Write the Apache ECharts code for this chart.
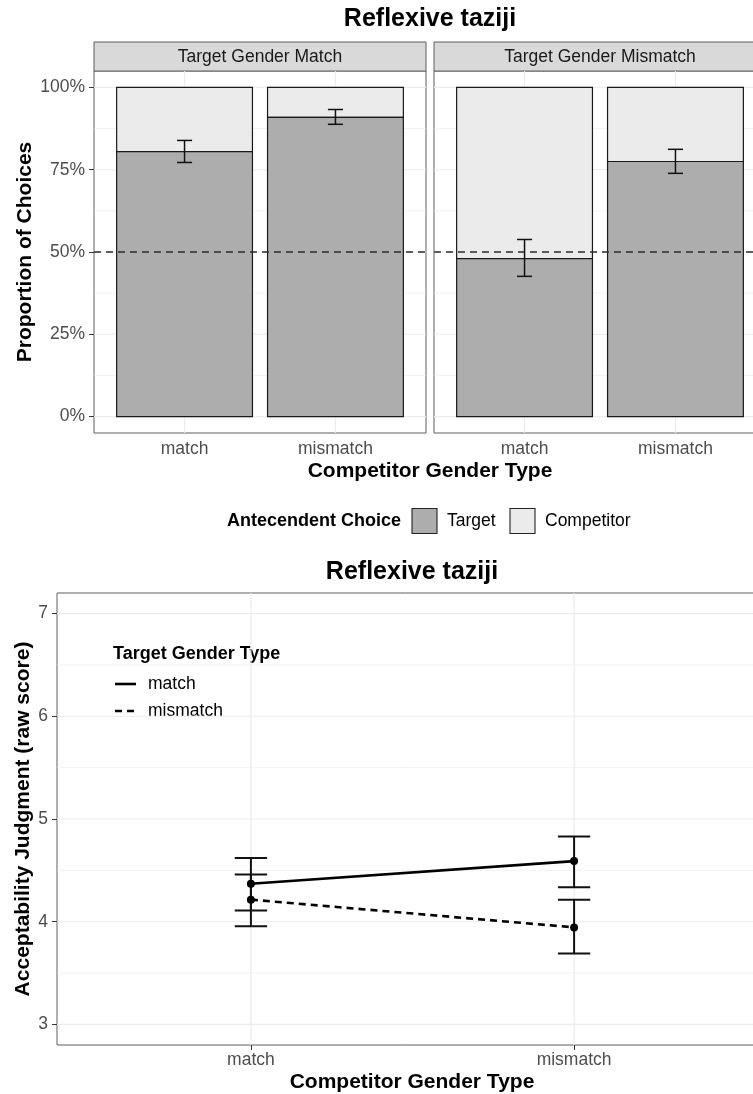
<!DOCTYPE html>
<html>
<head>
<meta charset="utf-8">
<script src="https://cdn.jsdelivr.net/npm/echarts@6/dist/echarts.min.js"></script>
<style>
  html, body { margin: 0; padding: 0; background: #fff; }
  #chart { width: 753px; height: 1094px; }
</style>
</head>
<body>
<div id="chart"></div>
<script>
// ---------------- data ----------------
const chartTitle = 'Reflexive taziji';
const xCategories = ['match', 'mismatch'];
const xAxisTitle = 'Competitor Gender Type';
const panelNames = ['Target Gender Match', 'Target Gender Mismatch'];

// proportion of Target choices (panel 1: target gender match, panel 2: mismatch)
const targetPropPanel1 = [0.805, 0.909];
const ciLowPanel1 = [0.772, 0.888];
const ciHighPanel1 = [0.839, 0.933];
const targetPropPanel2 = [0.480, 0.775];
const ciLowPanel2 = [0.426, 0.739];
const ciHighPanel2 = [0.538, 0.812];
const chanceLevel = 0.5;
const propTicks = [0, 0.25, 0.5, 0.75, 1];
const propMinorTicks = [0.125, 0.375, 0.625, 0.875];
const propAxisTitle = 'Proportion of Choices';
const choiceLegendTitle = 'Antecendent Choice';
const choiceLegend = ['Target', 'Competitor'];

// acceptability judgments
const judgMatchMean = [4.37, 4.59];
const judgMatchLow = [4.11, 4.335];
const judgMatchHigh = [4.62, 4.83];
const judgMismatchMean = [4.215, 3.945];
const judgMismatchLow = [3.955, 3.69];
const judgMismatchHigh = [4.46, 4.215];
const judgTicks = [3, 4, 5, 6, 7];
const judgMinorTicks = [3.5, 4.5, 5.5, 6.5];
const judgAxisTitle = 'Acceptability Judgment (raw score)';
const typeLegendTitle = 'Target Gender Type';
const typeLegend = ['match', 'mismatch'];

// ---------------- helpers ----------------
const FONT = '"Liberation Sans", Arial, Helvetica, sans-serif';
const xPos = xCategories.map((c, i) => i + 1);
const TARGET_FILL = '#adadad';
const COMP_FILL = '#ebebeb';
const BORDER = '#5e5e5e';

function gridLineData(major, minor) {
  const d = [];
  major.forEach(v => d.push([v, 0, 0]));
  minor.forEach(v => d.push([v, 0, 1]));
  xPos.forEach(v => d.push([v, 1, 0]));
  return d;
}
function renderGridLine(params, api) {
  const cs = params.coordSys;
  const v = api.value(0), vert = api.value(1), minor = api.value(2);
  let shape;
  if (vert) {
    const x = api.coord([v, v])[0];
    shape = { x1: x, y1: cs.y, x2: x, y2: cs.y + cs.height };
  } else {
    const y = api.coord([1, v])[1];
    shape = { x1: cs.x, y1: y, x2: cs.x + cs.width, y2: y };
  }
  return { type: 'line', shape, style: { stroke: '#ebebeb', lineWidth: minor ? 0.7 : 1.2 } };
}
function renderHLine(params, api) {
  const cs = params.coordSys;
  const y = api.coord([1, api.value(0)])[1];
  return { type: 'line', shape: { x1: cs.x, y1: y, x2: cs.x + cs.width, y2: y },
    style: { stroke: '#2b2b2b', lineWidth: 1.3, lineDash: [7, 5] } };
}
function renderStackBar(params, api) {
  const x = api.value(0), t = api.value(1);
  const half = api.size([0.9, 0])[0] / 2;
  const cx = api.coord([x, 0])[0];
  const y0 = api.coord([x, 0])[1], yt = api.coord([x, t])[1], y1 = api.coord([x, 1])[1];
  return { type: 'group', children: [
    { type: 'rect', shape: { x: cx - half, y: y1, width: 2 * half, height: yt - y1 },
      style: { fill: COMP_FILL, stroke: '#1a1a1a', lineWidth: 1.2 } },
    { type: 'rect', shape: { x: cx - half, y: yt, width: 2 * half, height: y0 - yt },
      style: { fill: TARGET_FILL, stroke: '#1a1a1a', lineWidth: 1.2 } }
  ]};
}
function makeErrRender(lw) {
  return function (params, api) {
    const x = api.value(0);
    const lo = api.coord([x, api.value(1)]), hi = api.coord([x, api.value(2)]);
    const half = api.size([0.1, 0])[0] / 2;
    const st = { stroke: '#111', lineWidth: lw };
    return { type: 'group', children: [
      { type: 'line', shape: { x1: lo[0], y1: lo[1], x2: hi[0], y2: hi[1] }, style: st },
      { type: 'line', shape: { x1: lo[0] - half, y1: lo[1], x2: lo[0] + half, y2: lo[1] }, style: st },
      { type: 'line', shape: { x1: hi[0] - half, y1: hi[1], x2: hi[0] + half, y2: hi[1] }, style: st }
    ]};
  };
}

const grids = [
  { left: 94, top: 71, width: 332, height: 362 },
  { left: 434, top: 71, width: 332, height: 362 },
  { left: 57, top: 593, width: 711, height: 452 }
].map(g => Object.assign(g, { show: true, borderColor: BORDER, borderWidth: 1, containLabel: false, outerBoundsMode: 'none' }));

const xAxes = [0, 1, 2].map(i => ({
  gridIndex: i, type: 'value', min: 0.4, max: 2.6,
  axisLine: { show: false }, splitLine: { show: false },
  axisTick: { show: true, customValues: xPos, length: 5, lineStyle: { color: '#333', width: 1 } },
  axisLabel: { customValues: xPos, formatter: v => xCategories[Math.round(v) - 1] || '',
    fontSize: 17.5, color: '#4d4d4d', fontFamily: FONT, margin: i < 2 ? 7 : 6 }
}));
const yAxes = [
  { gridIndex: 0, type: 'value', min: -0.05, max: 1.05,
    axisLine: { show: false }, splitLine: { show: false },
    axisTick: { show: true, customValues: propTicks, length: 5, lineStyle: { color: '#333' } },
    axisLabel: { customValues: propTicks, formatter: v => Math.round(v * 100) + '%',
      fontSize: 17.5, color: '#4d4d4d', fontFamily: FONT, margin: 9 } },
  { gridIndex: 1, type: 'value', min: -0.05, max: 1.05,
    axisLine: { show: false }, splitLine: { show: false },
    axisTick: { show: false }, axisLabel: { show: false } },
  { gridIndex: 2, type: 'value', min: 2.8, max: 7.2,
    axisLine: { show: false }, splitLine: { show: false },
    axisTick: { show: true, customValues: judgTicks, length: 5, lineStyle: { color: '#333' } },
    axisLabel: { customValues: judgTicks, formatter: v => String(v),
      fontSize: 17.5, color: '#4d4d4d', fontFamily: FONT, margin: 9 } }
];

const panels = [
  { prop: targetPropPanel1, lo: ciLowPanel1, hi: ciHighPanel1 },
  { prop: targetPropPanel2, lo: ciLowPanel2, hi: ciHighPanel2 }
];

const series = [];
// grid lines
[0, 1].forEach(i => series.push({ type: 'custom', xAxisIndex: i, yAxisIndex: i, z: 1, silent: true,
  renderItem: renderGridLine, data: gridLineData(propTicks, propMinorTicks) }));
series.push({ type: 'custom', xAxisIndex: 2, yAxisIndex: 2, z: 1, silent: true,
  renderItem: renderGridLine, data: gridLineData(judgTicks, judgMinorTicks) });
// stacked bars, chance line, error bars
panels.forEach((p, i) => {
  series.push({ type: 'custom', xAxisIndex: i, yAxisIndex: i, z: 2,
    renderItem: renderStackBar, data: xPos.map((x, k) => [x, p.prop[k]]) });
  series.push({ type: 'custom', xAxisIndex: i, yAxisIndex: i, z: 3, silent: true,
    renderItem: renderHLine, data: [[chanceLevel, chanceLevel]] });
  series.push({ type: 'custom', xAxisIndex: i, yAxisIndex: i, z: 4,
    renderItem: makeErrRender(1.5), data: xPos.map((x, k) => [x, p.lo[k], p.hi[k]]) });
});
// judgments
const judg = [
  { name: typeLegend[0], mean: judgMatchMean, lo: judgMatchLow, hi: judgMatchHigh, dash: 'solid' },
  { name: typeLegend[1], mean: judgMismatchMean, lo: judgMismatchLow, hi: judgMismatchHigh, dash: [7, 5] }
];
judg.forEach(s => {
  series.push({ type: 'custom', xAxisIndex: 2, yAxisIndex: 2, z: 4,
    renderItem: makeErrRender(2), data: xPos.map((x, k) => [x, s.lo[k], s.hi[k]]) });
  series.push({ type: 'line', name: s.name, xAxisIndex: 2, yAxisIndex: 2, z: 5,
    data: xPos.map((x, k) => [x, s.mean[k]]),
    symbol: 'circle', symbolSize: 8, itemStyle: { color: '#000' },
    lineStyle: { color: '#000', width: 2.6, type: s.dash } });
});

// ---------------- graphics (strips, titles, legends) ----------------
const graphic = [];
grids.slice(0, 2).forEach((g, i) => {
  graphic.push({ type: 'rect', shape: { x: g.left, y: 42, width: g.width, height: 29 },
    style: { fill: '#d9d9d9', stroke: BORDER, lineWidth: 1 } });
  graphic.push({ type: 'text', x: g.left + g.width / 2, y: 57,
    style: { text: panelNames[i], fontSize: 17.5, fontFamily: FONT, fill: '#1a1a1a',
      textAlign: 'center', textVerticalAlign: 'middle' } });
});
function txt(x, y, text, size, bold, extra) {
  return Object.assign({ type: 'text', x, y,
    style: { text, fontSize: size, fontWeight: bold ? 'bold' : 'normal', fontFamily: FONT,
      fill: '#000', textAlign: 'center', textVerticalAlign: 'middle' } }, extra || {});
}
graphic.push(txt(430, 19, chartTitle, 25, true));
graphic.push(txt(430, 471, xAxisTitle, 21, true));
graphic.push(txt(25, 252, propAxisTitle, 21, true, { rotation: Math.PI / 2 }));
graphic.push(txt(412, 572, chartTitle, 25, true));
graphic.push(txt(412, 1082, xAxisTitle, 21, true));
graphic.push(txt(23, 819, judgAxisTitle, 21, true, { rotation: Math.PI / 2 }));

// top legend
const legY = 521;
const legTitle = txt(227, legY, choiceLegendTitle, 18, true);
legTitle.style.textAlign = 'left';
graphic.push(legTitle);
const legBoxX = [412, 510];
const legFills = [TARGET_FILL, COMP_FILL];
choiceLegend.forEach((name, i) => {
  graphic.push({ type: 'rect', shape: { x: legBoxX[i], y: legY - 12.5, width: 25, height: 25 },
    style: { fill: legFills[i], stroke: '#222', lineWidth: 1.1 } });
  const t = txt(legBoxX[i] + 35, legY, name, 17.5, false);
  t.style.textAlign = 'left'; t.style.fill = '#000';
  graphic.push(t);
});

// bottom legend
const bl = txt(113, 654, typeLegendTitle, 18, true);
bl.style.textAlign = 'left';
graphic.push(bl);
const blY = [684, 711];
const blDash = [null, [7, 5]];
typeLegend.forEach((name, i) => {
  graphic.push({ type: 'line', shape: { x1: 115, y1: blY[i], x2: 136, y2: blY[i] },
    style: { stroke: '#000', lineWidth: 2.6, lineDash: blDash[i] } });
  const t = txt(148, blY[i], name, 17.5, false);
  t.style.textAlign = 'left';
  graphic.push(t);
});

const chart = echarts.init(document.getElementById('chart'), null, { renderer: 'canvas' });
chart.setOption({
  animation: false,
  backgroundColor: '#ffffff',
  grid: grids,
  xAxis: xAxes,
  yAxis: yAxes,
  series: series,
  graphic: graphic
});
</script>
</body>
</html>
